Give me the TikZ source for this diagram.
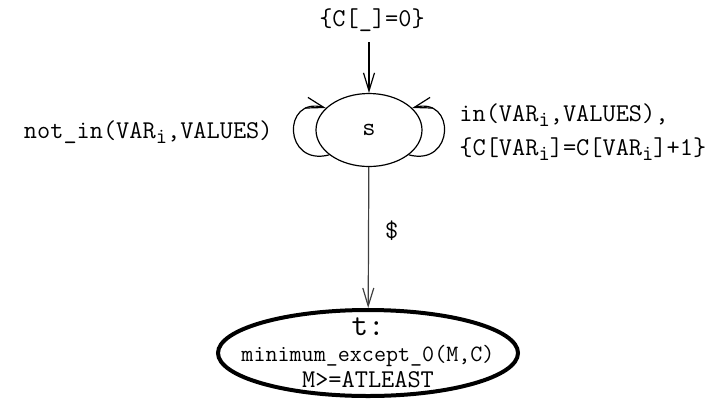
\documentclass[tikz,border=0pt]{standalone}
\usepackage{fontspec}
\usepackage{tikz}
\usetikzlibrary{arrows.meta,shapes.geometric}
\newcommand{\idx}{{\fontsize{11}{11}\selectfont\raisebox{-0.5ex}{i}}}
\tikzset{
  state/.style={ellipse,draw=black,line width=0.6pt,inner sep=0pt},
  edge/.style={-{Straight Barb[length=9pt,width=5.5pt]},draw=black,line width=0.6pt},
  lbl/.style={font=\ttfamily\fontsize{12.8}{15}\selectfont,inner sep=0pt}
}
\begin{document}
\begin{tikzpicture}[x=0.5pt,y=-0.5pt,font=\ttfamily\fontsize{12.8}{15}\selectfont]
\useasboundingbox (0,0) rectangle (724,398);
\node[lbl] (init) at (372,20) {\{C[\_]=0\}};
\node[state,minimum width=53pt,minimum height=36.5pt] (s) at (369,130) {s};
\node[state,line width=2pt,minimum width=150pt,minimum height=43pt,inner xsep=-12pt,inner ysep=-8pt,align=center,font=\ttfamily\fontsize{12.8}{13}\selectfont] (t) at (368,353) {{\fontsize{16}{13}\selectfont t:}\\{\fontsize{11.7}{13}\selectfont minimum\_except\_0(M,C)}\\M>=ATLEAST};
\coordinate (start) at (369,42);
\draw[edge] (start) -- (s);
\draw[edge] (s.-32) .. controls +(46,12) and +(44,-12) .. (s.27);
\draw[edge] (s.-148) .. controls +(-46,12) and +(-44,-12) .. (s.153);
\draw[edge,draw=black!75] (s) -- node[lbl,pos=0.45,right=8pt] {\$} (t);
\node[lbl,anchor=east] (notin) at (273,132) {not\_in(VAR\idx,VALUES)};
\node[lbl,anchor=west,align=left] (isin) at (459,132) {in(VAR\idx,VALUES),\\[2pt]\{C[VAR\idx]=C[VAR\idx]+1\}};
\end{tikzpicture}
\end{document}
